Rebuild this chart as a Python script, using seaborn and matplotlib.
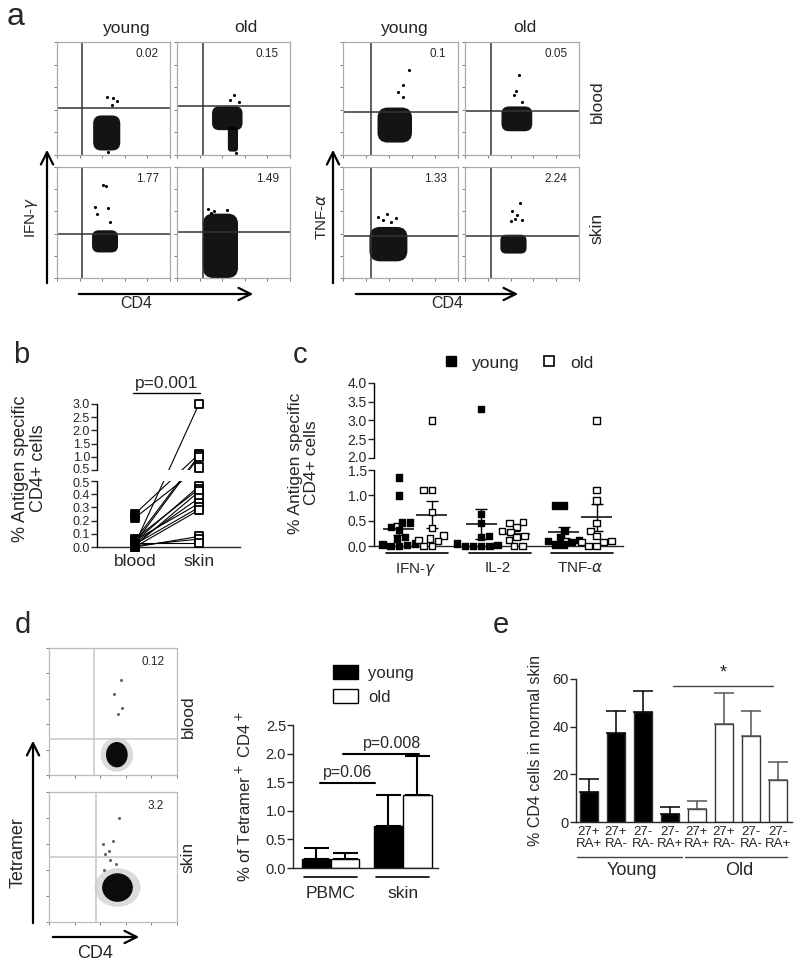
import numpy as np
import pandas as pd
import matplotlib
matplotlib.use("Agg")
import matplotlib.pyplot as plt
import matplotlib.transforms as mtrans
import seaborn as sns
from matplotlib.patches import Ellipse, FancyArrowPatch, FancyBboxPatch, Patch
from matplotlib.lines import Line2D
from matplotlib.ticker import FormatStrFormatter

# ---------------- data ----------------
# a: flow plots, [row][col], rows = blood/skin, cols = IFN young, IFN old, TNF young, TNF old
a_pct = [["0.02", "0.15", "0.1", "0.05"], ["1.77", "1.49", "1.33", "2.24"]]
a_gate_x = [[220, 230, 240, 230], [220, 230, 240, 230]]
a_gate_y = [[420, 430, 380, 390], [400, 410, 380, 380]]
# cell clouds: centre x, centre y, width, height
a_blob_x = [[[440], [445, 495], [450], [455]], [[425], [385], [395], [425]]]
a_blob_y = [[[195], [325, 140], [265], [320]], [[330], [290], [305], [305]]]
a_blob_w = [[[240], [270, 90], [300], [270]], [[230], [310], [330], [230]]]
a_blob_h = [[[310], [210, 220], [310], [220]], [[200], [580], [310], [170]]]
a_out_x = [[[440, 500, 530, 490, 450], [500, 470, 550, 520], [570, 520, 520, 480], [470, 450, 430, 500]],
           [[410, 430, 340, 350, 450, 470], [270, 330, 440, 300], [300, 350, 380, 420, 460], [480, 410, 460, 440, 500, 400]]]
a_out_y = [[[510, 500, 480, 445, 30], [530, 490, 470, 20], [750, 620, 510, 560], [710, 570, 530, 470]],
           [[840, 830, 640, 580, 630, 500], [620, 600, 610, 590], [550, 520, 580, 500, 540], [680, 600, 570, 530, 520, 510]]]

# b: paired blood / skin values
b_blood = [0.02, 0.25, 0.05, 0.03, 0.22, 0.04, 0.06, 0.01, 0.03, 0.05, 0.02, 0.0, 0.0, 0.01, 0.03]
b_skin = [3.0, 1.1, 1.05, 1.0, 0.6, 0.46, 0.44, 0.42, 0.37, 0.33, 0.3, 0.28, 0.08, 0.06, 0.03]

# c: cytokine producing cells
c_ifn_young = [1.35, 1.0, 0.46, 0.46, 0.38, 0.32, 0.18, 0.15, 0.05, 0.03, 0.02, 0.0, 0.0]
c_ifn_old = [3.0, 1.1, 1.1, 0.67, 0.36, 0.21, 0.15, 0.12, 0.1, 0.0, 0.0]
c_il2_young = [3.3, 0.63, 0.45, 0.2, 0.18, 0.05, 0.02, 0.0, 0.0, 0.0, 0.0]
c_il2_old = [0.47, 0.45, 0.38, 0.3, 0.28, 0.2, 0.18, 0.12, 0.0, 0.0]
c_tnf_young = [0.8, 0.8, 0.3, 0.17, 0.12, 0.1, 0.08, 0.03, 0.03]
c_tnf_old = [3.0, 1.1, 0.9, 0.45, 0.3, 0.2, 0.1, 0.08, 0.08, 0.0, 0.0]
c_cyto = ["IFN-$\\gamma$", "IL-2", "TNF-$\\alpha$"]

# d: tetramer flow + bars
d_pct = ["0.12", "3.2"]
d_gate_x = [350, 370]
d_gate_y = [280, 500]
d_blob = [(530, 160, 170, 200), (535, 265, 240, 220)]
d_out_x = [[560, 510, 570, 540], [550, 420, 470, 500, 440, 480, 520, 430]]
d_out_y = [[750, 640, 530, 480], [800, 600, 550, 620, 520, 480, 450, 400]]
d_site = ["PBMC", "PBMC", "skin", "skin"]
d_age = ["young", "old", "young", "old"]
d_mean = [0.15, 0.15, 0.73, 1.27]
d_sem = [0.20, 0.12, 0.54, 0.68]

# e: CD27 / CD45RA subsets
e_cat = ["Y 27+RA+", "Y 27+RA-", "Y 27-RA-", "Y 27-RA+", "O 27+RA+", "O 27+RA-", "O 27-RA-", "O 27-RA+"]
e_ticklab = ["27+\nRA+", "27+\nRA-", "27-\nRA-", "27-\nRA+", "27+\nRA+", "27+\nRA-", "27-\nRA-", "27-\nRA+"]
e_group = ["Young", "Young", "Young", "Young", "Old", "Old", "Old", "Old"]
e_mean = [12.5, 37.5, 46, 3.5, 5.5, 41, 36, 17.5]
e_sem = [5.5, 9, 9, 3, 3.5, 13, 10.5, 7.5]

# ---------------- layout helpers ----------------
W, H = 800, 972
sns.set_style("ticks")
plt.rcParams["font.family"] = ["Liberation Sans", "DejaVu Sans"]
plt.rcParams["axes.linewidth"] = 1.0
plt.rcParams["xtick.major.width"] = 1.0
plt.rcParams["ytick.major.width"] = 1.0

fig = plt.figure(figsize=(W / 100, H / 100), dpi=100)


def rect(l, t, r, b):
    return [l / W, 1 - b / H, (r - l) / W, (b - t) / H]


def label(x, y, s, size, rot=0, ha="center"):
    fig.text(x / W, 1 - y / H, s, fontsize=size, rotation=rot, ha=ha, va="center")


def arrow(x0, y0, x1, y1):
    fig.add_artist(FancyArrowPatch((x0 / W, 1 - y0 / H), (x1 / W, 1 - y1 / H),
                                   transform=fig.transFigure, arrowstyle="->",
                                   mutation_scale=22, lw=1.6, color="black"))


def nudge(ax, lo_idx, hi_idx, px):
    # push the two tick labels at an axis break slightly apart
    labs = ax.get_yticklabels()
    labs[lo_idx].set_transform(mtrans.offset_copy(labs[lo_idx].get_transform(), fig=fig, y=-px, units="dots"))
    labs[hi_idx].set_transform(mtrans.offset_copy(labs[hi_idx].get_transform(), fig=fig, y=px, units="dots"))


def flow(ax, gx, gy, bx, by, bw, bh, ox, oy, pct, line_c="#333333", frame_c="#aaaaaa", halo=False):
    ax.set_xlim(0, 1000)
    ax.set_ylim(0, 1000)
    for x, y, w, h in zip(bx, by, bw, bh):
        if halo:
            ax.add_patch(Ellipse((x, y), w * 1.5, h * 1.35, color="#999999", alpha=0.35, lw=0))
            ax.add_patch(Ellipse((x, y), w, h, color="black", alpha=0.95, lw=0))
        else:
            ax.add_patch(FancyBboxPatch((x - w / 2, y - h / 2), w, h,
                                        boxstyle=f"round,pad=0,rounding_size={0.3 * min(w, h)}",
                                        color="black", alpha=0.92, lw=0))
    sns.scatterplot(x=ox, y=oy, ax=ax, s=5, color="#666666" if halo else "black", linewidth=0)
    ax.axvline(gx, color=line_c, lw=1.1)
    ax.axhline(gy, color=line_c, lw=1.1)
    ax.text(0.9, 0.89, pct, transform=ax.transAxes, ha="right", va="center", fontsize=8.5)
    ax.set_xticks([0, 200, 400, 600, 800, 1000])
    ax.set_yticks([0, 200, 400, 600, 800, 1000])
    ax.tick_params(length=2, width=0.6, color="#666666", labelleft=False, labelbottom=False)
    for sp in ax.spines.values():
        sp.set_color(frame_c)
        sp.set_linewidth(0.9)


# ---------------- a ----------------
a_box_x = [(57, 170), (177, 290), (343, 458), (465, 579)]
a_box_y = [(42, 155), (167, 278)]
for r in range(2):
    for c in range(4):
        ax = fig.add_axes(rect(a_box_x[c][0], a_box_y[r][0], a_box_x[c][1], a_box_y[r][1]))
        flow(ax, a_gate_x[r][c], a_gate_y[r][c], a_blob_x[r][c], a_blob_y[r][c],
             a_blob_w[r][c], a_blob_h[r][c], a_out_x[r][c], a_out_y[r][c], a_pct[r][c])

label(7, 17, "a", 23, ha="left")
for x, s in zip([127, 246, 405, 525], ["young", "old", "young", "old"]):
    label(x, 28, s, 12.5)
label(597, 102, "blood", 12.5, rot=90)
label(597, 228, "skin", 12.5, rot=90)
label(32, 217, "IFN-$\\gamma$", 11, rot=90)
label(322, 217, "TNF-$\\alpha$", 11, rot=90)
arrow(47, 286, 47, 147)
arrow(333, 286, 333, 147)
arrow(76, 294, 256, 294)
arrow(353, 294, 521, 294)
label(136, 304, "CD4", 11.5)
label(447, 304, "CD4", 11.5)

# ---------------- b ----------------
B_GAP = 11 / 132


def b_fwd(v):
    v = np.asarray(v, dtype=float)
    return np.where(v <= 0.5, v, 0.5 + B_GAP + (v - 0.5) * 0.2)


def b_inv(u):
    u = np.asarray(u, dtype=float)
    return np.where(u <= 0.5, u, np.where(u < 0.5 + B_GAP, 0.5, 0.5 + (u - 0.5 - B_GAP) / 0.2))


n_b = len(b_blood)
b_df = pd.DataFrame({"donor": list(range(n_b)) * 2,
                     "site": ["blood"] * n_b + ["skin"] * n_b,
                     "pct": b_blood + b_skin})
ax = fig.add_axes(rect(97, 404, 240, 547))
ax.set_yscale("function", functions=(b_fwd, b_inv))
sns.lineplot(data=b_df, x="site", y="pct", units="donor", estimator=None, sort=False,
             color="black", lw=0.8, ax=ax, legend=False)
sns.scatterplot(data=b_df, x="site", y="pct", hue="site", palette={"blood": "black", "skin": "white"},
                marker="s", s=36, edgecolor="black", linewidth=1.3, legend=False, ax=ax, zorder=4,
                clip_on=False)
ax.axhspan(0.5, 0.5001, color="white", zorder=2.5, lw=0)
ax.set_ylim(0, 3.0)
ax.set_xlim(-0.59, 1.64)
ax.set_yticks([0, 0.1, 0.2, 0.3, 0.4, 0.5, 0.5001, 1.0, 1.5, 2.0, 2.5, 3.0])
ax.yaxis.set_major_formatter(FormatStrFormatter("%.1f"))
ax.tick_params(axis="y", labelsize=9, length=4, pad=1)
ax.tick_params(axis="x", labelsize=12.5, length=0, pad=5)
ax.set_xlabel("")
ax.set_ylabel("% Antigen specific\nCD4+ cells", fontsize=13, linespacing=1.1)
ax.yaxis.set_label_coords(-0.35, 0.55)
sns.despine(ax=ax, left=True)
ax.plot([0, 0], [0, 0.5], transform=ax.get_yaxis_transform(), color="black", lw=1, clip_on=False, zorder=5)
ax.plot([0, 0], [0.5001, 3.0], transform=ax.get_yaxis_transform(), color="black", lw=1, clip_on=False, zorder=5)
ax.plot([-0.03, 1.02], [3.42, 3.42], color="black", lw=1, clip_on=False)
ax.text(0.5, 3.48, "p=0.001", ha="center", va="bottom", fontsize=12.5, clip_on=False)
nudge(ax, 5, 6, 1.0)
label(13, 355, "b", 21, ha="left")

# ---------------- c ----------------
C_GAP = 12 / 50.7
C_HI = 37.5 / 50.7


def c_fwd(v):
    v = np.asarray(v, dtype=float)
    return np.where(v <= 1.5, v,
                    np.where(v < 2.0, 1.5 + C_GAP * (v - 1.5) / 0.5, 1.5 + C_GAP + (v - 2.0) * C_HI))


def c_inv(u):
    u = np.asarray(u, dtype=float)
    return np.where(u <= 1.5, u,
                    np.where(u < 1.5 + C_GAP, 1.5 + (u - 1.5) / C_GAP * 0.5, 2.0 + (u - 1.5 - C_GAP) / C_HI))


c_groups = [(c_cyto[0], "young", c_ifn_young), (c_cyto[0], "old", c_ifn_old),
            (c_cyto[1], "young", c_il2_young), (c_cyto[1], "old", c_il2_old),
            (c_cyto[2], "young", c_tnf_young), (c_cyto[2], "old", c_tnf_old)]
c_df = pd.concat([pd.DataFrame({"cyto": cy, "age": ag, "pct": vals}) for cy, ag, vals in c_groups],
                 ignore_index=True)

ax = fig.add_axes(rect(374, 383, 623, 546))
ax.set_yscale("function", functions=(c_fwd, c_inv))
sns.swarmplot(data=c_df, x="cyto", y="pct", hue="age", order=c_cyto, hue_order=["young", "old"],
              dodge=True, marker="s", size=4.6, palette={"young": "black", "old": "white"},
              edgecolor="black", linewidth=1, legend=False, ax=ax, zorder=4, clip_on=False)
stats = c_df.groupby(["cyto", "age"])["pct"].agg(["mean", "sem"])
for i, cy in enumerate(c_cyto):
    for off, ag in zip([-0.2, 0.2], ["young", "old"]):
        m, s = stats.loc[(cy, ag), "mean"], stats.loc[(cy, ag), "sem"]
        ax.hlines(m, i + off - 0.19, i + off + 0.19, color="black", lw=1.1, zorder=3)
        ax.errorbar(i + off, m, yerr=s, color="black", lw=1, capsize=4, zorder=3)
ax.axhspan(1.5, 2.0, color="white", zorder=2.5, lw=0)
ax.set_ylim(0, 4.0)
ax.set_xlim(-0.5, 2.52)
ax.set_yticks([0, 0.5, 1.0, 1.5, 2.0, 2.5, 3.0, 3.5, 4.0])
ax.yaxis.set_major_formatter(FormatStrFormatter("%.1f"))
ax.tick_params(axis="y", labelsize=10, length=4, pad=1)
ax.tick_params(axis="x", labelsize=11, length=0, pad=11)
ax.set_xlabel("")
ax.set_ylabel("% Antigen specific\nCD4+ cells", fontsize=12.5, linespacing=1.1)
ax.yaxis.set_label_coords(-0.22, 0.51)
sns.despine(ax=ax, left=True)
ax.plot([0, 0], [0, 1.5], transform=ax.get_yaxis_transform(), color="black", lw=1, clip_on=False, zorder=5)
ax.plot([0, 0], [2.0, 4.0], transform=ax.get_yaxis_transform(), color="black", lw=1, clip_on=False, zorder=5)
for i in range(len(c_cyto)):
    ax.plot([i - 0.35, i + 0.4], [-0.043, -0.043], transform=ax.get_xaxis_transform(),
            color="black", lw=1.2, clip_on=False)
nudge(ax, 3, 4, 1.0)
fig.legend(handles=[Line2D([], [], marker="s", ls="", mfc="black", mec="black", ms=7),
                    Line2D([], [], marker="s", ls="", mfc="white", mec="black", ms=7, mew=1.2)],
           labels=["young", "old"], ncol=2, loc="center", bbox_to_anchor=(518 / W, 1 - 363 / H),
           frameon=False, fontsize=12.5, handletextpad=0.7, columnspacing=1.2, handlelength=1.0)
label(293, 355, "c", 21, ha="left")

# ---------------- d ----------------
d_box_y = [(648, 775), (792, 922)]
for k in range(2):
    ax = fig.add_axes(rect(49, d_box_y[k][0], 177, d_box_y[k][1]))
    bx, by, bw, bh = d_blob[k]
    flow(ax, d_gate_x[k], d_gate_y[k], [bx], [by], [bw], [bh], d_out_x[k], d_out_y[k], d_pct[k],
         line_c="#c8c8c8", frame_c="#bbbbbb", halo=True)
label(15, 625, "d", 21, ha="left")
label(188, 717, "blood", 12.5, rot=90)
label(188, 857, "skin", 12.5, rot=90)
label(18, 853, "Tetramer", 13, rot=90)
arrow(33, 926, 33, 738)
arrow(50, 937, 142, 937)
label(95, 953, "CD4", 13)

d_df = pd.DataFrame({"site": d_site, "age": d_age, "pct": d_mean, "sem": d_sem})
ax = fig.add_axes(rect(293, 725, 438, 868))
sns.barplot(data=d_df, x="site", y="pct", hue="age", hue_order=["young", "old"],
            palette={"young": "black", "old": "white"}, edgecolor="black", linewidth=1,
            errorbar=None, legend=False, ax=ax)
bar_sets = list(ax.containers)
for cont, ag in zip(bar_sets, ["young", "old"]):
    sub = d_df[d_df["age"] == ag]
    for bar, err in zip(cont, sub["sem"]):
        ax.errorbar(bar.get_x() + bar.get_width() / 2, bar.get_height(), yerr=[[0], [err]],
                    color="black", lw=1.5, capsize=9, capthick=1.5, zorder=1)
ax.set_ylim(0, 2.5)
ax.set_xlim(-0.52, 1.49)
ax.set_yticks([0, 0.5, 1.0, 1.5, 2.0, 2.5])
ax.yaxis.set_major_formatter(FormatStrFormatter("%.1f"))
ax.tick_params(axis="y", labelsize=10.5, length=4, pad=1)
ax.tick_params(axis="x", labelsize=12.5, length=0, pad=13)
ax.set_xlabel("")
ax.set_ylabel("% of Tetramer$^+$ CD4$^+$", fontsize=12)
ax.yaxis.set_label_coords(-0.27, 0.5)
sns.despine(ax=ax)
for i in range(2):
    ax.plot([i - 0.37, i + 0.37], [-0.063, -0.063], transform=ax.get_xaxis_transform(),
            color="black", lw=1.2, clip_on=False)
ax.plot([-0.15, 0.62], [1.48, 1.48], color="black", lw=1.5)
ax.text(0.23, 1.53, "p=0.06", ha="center", va="bottom", fontsize=11.5)
ax.plot([0.17, 1.22], [2.0, 2.0], color="black", lw=1.5)
ax.text(0.85, 2.05, "p=0.008", ha="center", va="bottom", fontsize=11.5)
fig.legend(handles=[Patch(fc="black", ec="black"), Patch(fc="white", ec="black")],
           labels=["young", "old"], loc="upper left", bbox_to_anchor=(318 / W, 1 - 650 / H),
           frameon=False, fontsize=12, handlelength=1.5, handleheight=0.9, labelspacing=0.5,
           handletextpad=0.6)

# ---------------- e ----------------
e_df = pd.DataFrame({"cat": e_cat, "group": e_group, "pct": e_mean, "sem": e_sem})
ax = fig.add_axes(rect(576, 679, 792, 822))
sns.barplot(data=e_df, x="cat", y="pct", hue="group", order=e_cat,
            palette={"Young": "black", "Old": "white"}, dodge=False, width=0.7,
            edgecolor="#333333", linewidth=1, errorbar=None, legend=False, ax=ax)
e_bars = [bar for cont in list(ax.containers) for bar in cont]
for bar in e_bars:
    idx = int(round(bar.get_x() + bar.get_width() / 2))
    col = "black" if e_group[idx] == "Young" else "#555555"
    ax.errorbar(idx, e_mean[idx], yerr=[[0], [e_sem[idx]]], color=col, lw=1.1,
                capsize=7, capthick=1.1, zorder=1)
ax.set_ylim(0, 60)
ax.set_xlim(-0.48, 7.52)
ax.set_yticks([0, 20, 40, 60])
ax.set_xticks(range(len(e_cat)))
ax.set_xticklabels(e_ticklab, fontsize=9.5, linespacing=1.0)
ax.tick_params(axis="y", labelsize=10.5, length=4, pad=1)
ax.tick_params(axis="x", length=0, pad=3)
ax.set_xlabel("")
ax.set_ylabel("% CD4 cells in normal skin", fontsize=11.5)
ax.yaxis.set_label_coords(-0.155, 0.5)
sns.despine(ax=ax)
ax.plot([-0.44, 3.44], [-0.245, -0.245], transform=ax.get_xaxis_transform(), color="#444444", lw=1, clip_on=False)
ax.plot([3.56, 7.33], [-0.245, -0.245], transform=ax.get_xaxis_transform(), color="#444444", lw=1, clip_on=False)
ax.text(1.6, -0.34, "Young", transform=ax.get_xaxis_transform(), ha="center", va="center", fontsize=13)
ax.text(5.56, -0.34, "Old", transform=ax.get_xaxis_transform(), ha="center", va="center", fontsize=13)
ax.plot([3.1, 6.8], [57, 57], color="#444444", lw=1)
ax.text(4.96, 59, "*", ha="center", va="bottom", fontsize=13)
label(493, 625, "e", 21, ha="left")

fig.savefig("out.png", dpi=100)
